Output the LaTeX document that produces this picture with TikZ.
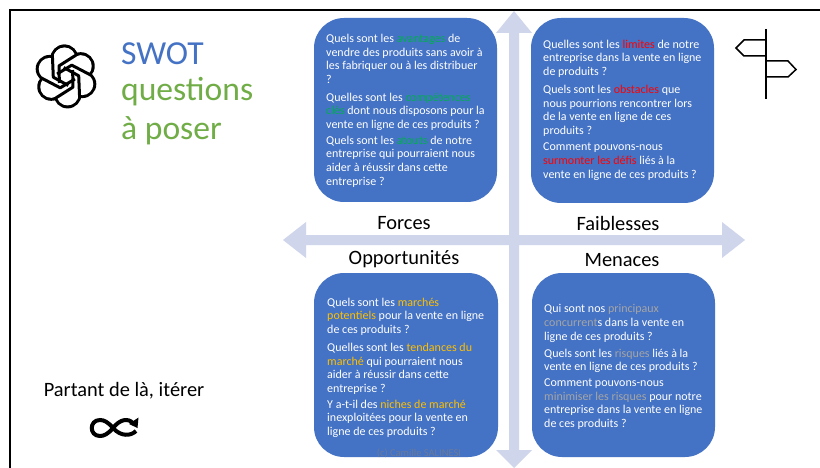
\documentclass[tikz,border=0pt]{standalone}
\usepackage{fontspec}
\setmainfont{Carlito}
\definecolor{boxblue}{HTML}{4472C4}
\definecolor{titlegreen}{HTML}{70AD47}
\definecolor{arrowfill}{HTML}{CFD5EA}
\definecolor{kgreen}{HTML}{00B050}
\definecolor{kred}{HTML}{FF0000}
\definecolor{kgold}{HTML}{FFC000}
\definecolor{kgrey}{HTML}{A5A5A5}
\newcommand{\kg}[1]{\textcolor{kgreen}{#1}}
\newcommand{\kr}[1]{\textcolor{kred}{#1}}
\newcommand{\ko}[1]{\textcolor{kgold}{#1}}
\newcommand{\ky}[1]{\textcolor{kgrey}{#1}}
\tikzset{
  quad/.style={fill=boxblue,draw=none,rounded corners=30pt},
  para/.style={anchor=north west,inner sep=0pt,align=left,text=white,
    font=\fontsize{12pt}{13.7pt}\selectfont},
  axislabel/.style={inner sep=0pt,font=\fontsize{20.4pt}{24pt}\selectfont},
  titleline/.style={anchor=base west,inner sep=0pt,font=\fontsize{33.6pt}{38pt}\selectfont},
  iconline/.style={draw=black,line width=1.5pt,line join=miter},
  knotline/.style={draw=black,line width=3pt,line join=round},
}
\begin{document}
\begin{tikzpicture}[x=1pt,y=-1pt]
\useasboundingbox (0,0) rectangle (820,468);
\fill[white] (0,0) rectangle (820,468);
% frame
\draw[black,line width=2pt] (10,468) -- (10,10) -- (820,10);
% cross arrows
\fill[arrowfill] (514,11) -- (532,33) -- (519,33) -- (519,235) -- (722,235) -- (722,222) -- (745,240) -- (722,258) -- (722,245) -- (519,245) -- (519,450) -- (532,450) -- (514,468) -- (496,450) -- (509,450) -- (509,245) -- (306,245) -- (306,258) -- (283,240) -- (306,222) -- (306,235) -- (509,235) -- (509,33) -- (496,33) -- cycle;
% quadrants
\fill[quad] (314,18) rectangle (497,202);
\fill[quad] (531,18) rectangle (714,203);
\fill[quad] (314,273) rectangle (498,457);
\fill[quad] (532,273) rectangle (715,457);
% top-left
\node[para] (f1) at (326,34) {Quels sont les \kg{avantages} de\\vendre des produits sans avoir à\\les fabriquer ou à les distribuer\\?};
\node[para] (f2) at (326,92.5) {Quelles sont les \kg{compétences}\\\kg{clés} dont nous disposons pour la\\vente en ligne de ces produits ?};
\node[para] (f3) at (326,135.5) {Quels sont les \kg{atouts} de notre\\entreprise qui pourraient nous\\aider à réussir dans cette\\entreprise ?};
% top-right
\node[para] (w1) at (543,39.5) {Quelles sont les \kr{limites} de notre\\entreprise dans la vente en ligne\\de produits ?};
\node[para] (w2) at (543,85) {Quels sont les \kr{obstacles} que\\nous pourrions rencontrer lors\\de la vente en ligne de ces\\produits ?};
\node[para] (w3) at (543,143) {Comment pouvons-nous\\\kr{surmonter les défis} liés à la\\vente en ligne de ces produits ?};
% bottom-left
\node[para] (o1) at (327,297.5) {Quels sont les \ko{marchés}\\\ko{potentiels} pour la vente en ligne\\de ces produits ?};
\node[para] (o2) at (327,343) {Quelles sont les \ko{tendances du}\\\ko{marché} qui pourraient nous\\aider à réussir dans cette\\entreprise ?};
\node[para] (o3) at (327,399.5) {Y a-t-il des \ko{niches de marché}\\inexploitées pour la vente en\\ligne de ces produits ?};
% bottom-right
\node[para] (m1) at (544,304.5) {Qui sont nos \ky{principaux}\\\ky{concurrent}s dans la vente en\\ligne de ces produits ?};
\node[para] (m2) at (544,348.5) {Quels sont les \ky{risques} liés à la\\vente en ligne de ces produits ?};
\node[para] (m3) at (544,378.5) {Comment pouvons-nous\\\ky{minimiser les risques} pour notre\\entreprise dans la vente en ligne\\de ces produits ?};
% axis labels
\node[axislabel] (forces) at (404,223) {Forces};
\node[axislabel] (faib) at (618,223) {Faiblesses};
\node[axislabel] (opp) at (404,259) {Opportunités};
\node[axislabel] (men) at (622,260) {Menaces};
% title
\node[titleline,text=boxblue] (t1) at (121,65) {SWOT};
\node[titleline,text=titlegreen] (t2) at (121,101) {questions};
\node[titleline,text=titlegreen] (t3) at (121,140) {à poser};
% knot logo
\begin{scope}[shift={(66,76.5)},x=1pt,y=1pt]
\foreach \a in {95,155,...,455}{ \fill[black] (\a:18) circle[radius=14]; }
\foreach \a in {95,155,...,455}{ \fill[white] (\a:18) circle[radius=11]; }
\fill[white] (0,0) circle[radius=14];
\foreach \a in {0,60,...,300}{
  \draw[knotline,rotate=\a] (-13.6,21) -- (-12.7,-0.7) -- (2.3,-9);
}
\end{scope}
% signpost
\draw[iconline] (766,29) -- (766,99);
\draw[iconline] (766,40) -- (744,40) -- (736,48) -- (744,56) -- (766,56);
\draw[iconline] (766,61) -- (788,61) -- (796,69.5) -- (788,77) -- (766,77);
% iterate
\node[inner sep=0pt,font=\fontsize{20.4pt}{24pt}\selectfont] (iter) at (124,391) {Partant de là, itérer};
\draw[black,line width=4pt] (136,431) .. controls (131,436) and (121,437) .. (113,428) .. controls (108,422) and (104,420) .. (100,420) .. controls (89,420) and (89,436) .. (100,436) .. controls (104,436) and (108,434) .. (113,428) .. controls (120,419) and (128,418) .. (133,423);
\fill[black] (129,424) -- (138.5,417.5) -- (137.5,428) -- cycle;
% copyright
\node[inner sep=0pt,text=gray,opacity=.6,font=\fontsize{10.5pt}{12pt}\selectfont] (copy) at (419,453) {(c) Camille SALINESI};
\end{tikzpicture}
\end{document}
